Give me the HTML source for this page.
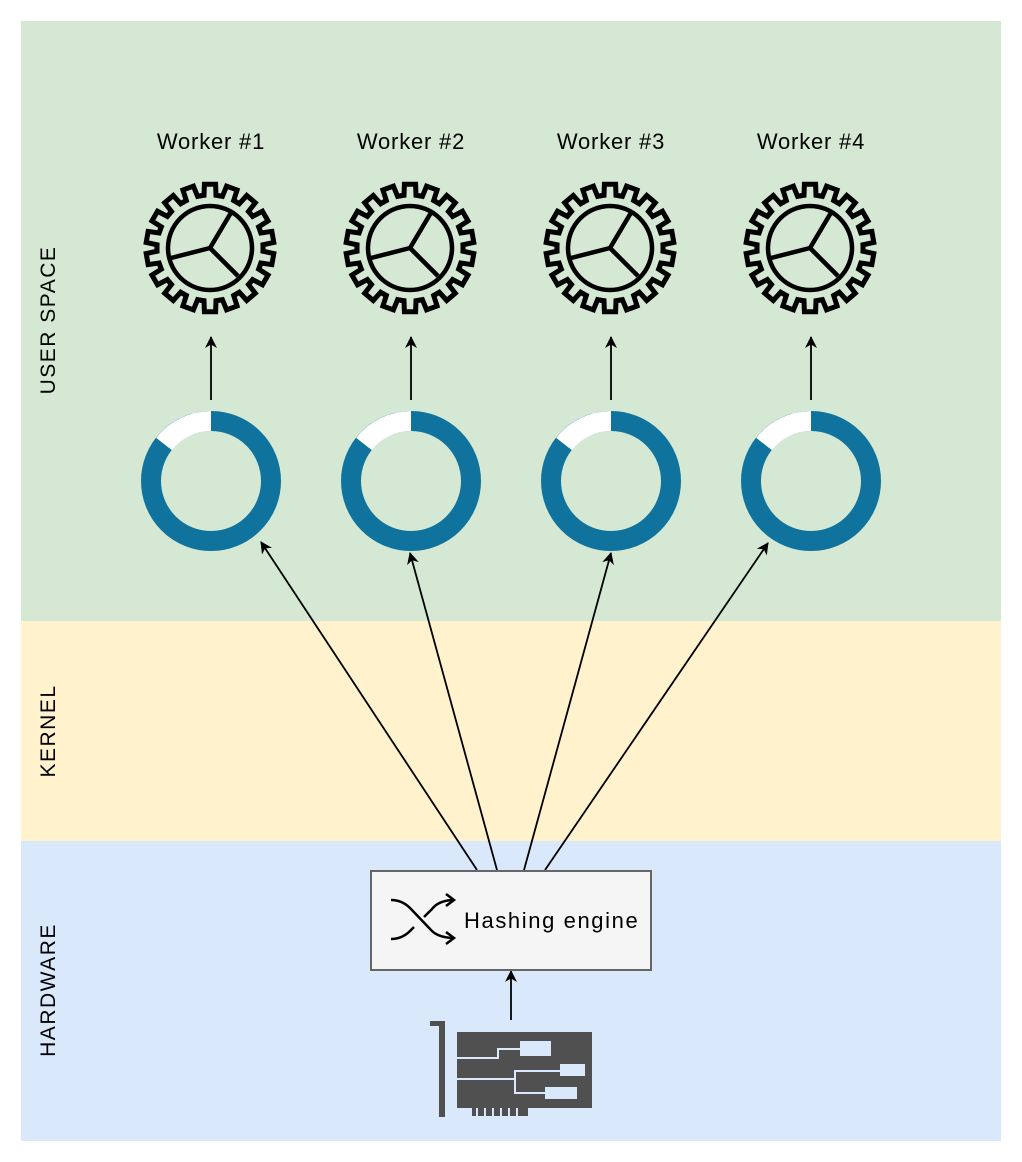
<!DOCTYPE html>
<html><head><meta charset="utf-8"><style>
body{margin:0;background:#fff}
svg{display:block}
text{font-family:"Liberation Sans",sans-serif}
</style></head><body>
<svg width="1022" height="1162" viewBox="0 0 1022 1162" xmlns="http://www.w3.org/2000/svg">
<defs>
<marker id="a" markerWidth="12" markerHeight="12" refX="11" refY="6" orient="auto" markerUnits="userSpaceOnUse">
<path d="M0,0 L12,6 L0,12 L3.5,6 z" fill="#000"/></marker>
<path id="t" d="M-10.1,-52.1 L-6,-52.7 L-5.6,-63.8 L5.6,-63.8 L6,-52.7 L10.1,-52.1" fill="none" stroke="#000" stroke-width="5" stroke-linecap="round" stroke-linejoin="miter"/>
<g id="gear">
<use href="#t"/><use href="#t" transform="rotate(20)"/><use href="#t" transform="rotate(40)"/><use href="#t" transform="rotate(60)"/><use href="#t" transform="rotate(80)"/><use href="#t" transform="rotate(100)"/><use href="#t" transform="rotate(120)"/><use href="#t" transform="rotate(140)"/><use href="#t" transform="rotate(160)"/><use href="#t" transform="rotate(180)"/><use href="#t" transform="rotate(200)"/><use href="#t" transform="rotate(220)"/><use href="#t" transform="rotate(240)"/><use href="#t" transform="rotate(260)"/><use href="#t" transform="rotate(280)"/><use href="#t" transform="rotate(300)"/><use href="#t" transform="rotate(320)"/><use href="#t" transform="rotate(340)"/>
<circle r="42" fill="none" stroke="#000" stroke-width="4.5"/>
<path d="M0,0 L22,-37 M0,0 L-39,10 M0,0 L28,28" stroke="#000" stroke-width="4.5" fill="none"/>
</g>
<g id="ring">
<circle r="60" fill="none" stroke="#10739e" stroke-width="20"/>
<path d="M0,-60 A60,60 0 0 0 -47,-37" fill="none" stroke="#fff" stroke-width="20"/>
</g>
</defs>
<rect x="21" y="21" width="980" height="600" fill="#d5e8d4"/>
<rect x="21" y="621" width="980" height="220" fill="#fff2cc"/>
<rect x="21" y="841" width="980" height="300" fill="#dae8fc"/>
<g font-size="21" letter-spacing="1.5" text-anchor="middle">
<text transform="translate(55,320) rotate(-90)">USER SPACE</text>
<text transform="translate(55,731) rotate(-90)">KERNEL</text>
<text transform="translate(55,990) rotate(-90)">HARDWARE</text>
</g>
<g font-size="22" letter-spacing="0.8" text-anchor="middle">
<text x="211" y="149">Worker #1</text><text x="411" y="149">Worker #2</text>
<text x="611" y="149">Worker #3</text><text x="811" y="149">Worker #4</text>
</g>
<use href="#gear" x="210" y="248"/><use href="#gear" x="410" y="248"/>
<use href="#gear" x="610" y="248"/><use href="#gear" x="810" y="248"/>
<use href="#ring" x="211" y="481"/><use href="#ring" x="411" y="481"/>
<use href="#ring" x="611" y="481"/><use href="#ring" x="811" y="481"/>
<g stroke="#000" stroke-width="1.8" marker-end="url(#a)">
<line x1="211" y1="400" x2="211" y2="337"/><line x1="411" y1="400" x2="411" y2="337"/>
<line x1="611" y1="400" x2="611" y2="337"/><line x1="811" y1="400" x2="811" y2="337"/>
<line x1="477" y1="870" x2="261" y2="542"/><line x1="497" y1="870" x2="410" y2="553"/>
<line x1="524" y1="870" x2="611" y2="553"/><line x1="545" y1="870" x2="768" y2="543"/>
<line x1="511" y1="1020" x2="511" y2="971"/>
</g>
<rect x="371" y="871" width="280" height="99" fill="#f5f5f5" stroke="#666" stroke-width="2"/>
<text x="464" y="928" font-size="22" letter-spacing="1.6">Hashing engine</text>
<g fill="none" stroke="#000" stroke-width="2.5">
<path d="M391,900 Q402,900 410,908 L432,931 Q438,937 452,938"/>
<path d="M391,939 Q402,939 410,931 L414,927 M424,917 L432,909 Q438,901 452,900"/>
<path d="M446,894 L454,900 L446,906 M446,932 L454,938 L446,944"/>
</g>
<g fill="#505050">
<path d="M430,1021 H445 V1117 H439 V1026 H430 z"/>
<path d="M457,1032 H592 V1108 H457 z"/>
<rect x="472" y="1108" width="56" height="8"/>
</g>
<g fill="none" stroke="#dae8fc" stroke-width="2">
<path d="M457,1058 H498 V1049 H520"/>
<path d="M457,1079 H515 V1071 H560"/>
<path d="M457,1079 H515 V1093 H545"/>
</g>
<g fill="#dae8fc"><rect x="520" y="1041" width="31" height="15"/><rect x="560" y="1064" width="25" height="12"/><rect x="545" y="1087" width="32" height="12"/>
<rect x="476" y="1108" width="2" height="8"/><rect x="484" y="1108" width="2" height="8"/><rect x="492" y="1108" width="2" height="8"/><rect x="500" y="1108" width="2" height="8"/><rect x="508" y="1108" width="2" height="8"/><rect x="516" y="1108" width="2" height="8"/></g>
</svg>
</body></html>
